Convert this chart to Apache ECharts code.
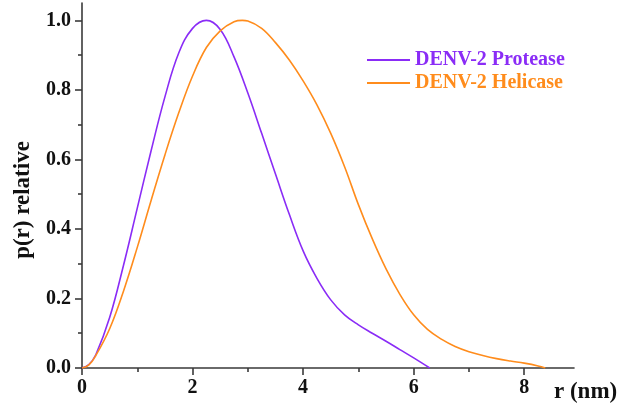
<!DOCTYPE html>
<html>
<head>
<meta charset="utf-8">
<script src="https://cdn.jsdelivr.net/npm/echarts@6/dist/echarts.min.js"></script>
<style>
  html, body { margin: 0; padding: 0; background: #ffffff; }
  #chart { width: 623px; height: 413px; }
</style>
</head>
<body>
<div id="chart"></div>
<script>
// Pair distance distributions p(r), normalised to a peak of 1
const proteaseR = [0, 0.125, 0.25, 0.5, 0.75, 1.0, 1.25, 1.5, 1.75, 2.0, 2.25, 2.5, 2.75, 3.0, 3.25, 3.5, 3.75, 4.0, 4.25, 4.5, 4.75, 5.0, 5.25, 5.5, 5.75, 6.0, 6.29];
const proteaseP = [0, 0.01, 0.038, 0.145, 0.295, 0.46, 0.625, 0.78, 0.906, 0.977, 1.0, 0.974, 0.895, 0.791, 0.675, 0.558, 0.442, 0.337, 0.258, 0.196, 0.153, 0.124, 0.1, 0.077, 0.053, 0.029, 0];

const helicaseR = [0, 0.125, 0.25, 0.5, 0.75, 1.0, 1.25, 1.5, 1.75, 2.0, 2.25, 2.5, 2.75, 2.9, 3.0, 3.25, 3.5, 3.75, 4.0, 4.25, 4.5, 4.75, 5.0, 5.25, 5.5, 5.75, 6.0, 6.25, 6.5, 6.75, 7.0, 7.25, 7.5, 7.75, 8.0, 8.25, 8.38];
const helicaseP = [0, 0.009, 0.036, 0.113, 0.221, 0.347, 0.482, 0.613, 0.734, 0.84, 0.922, 0.97, 0.996, 1.0, 0.998, 0.977, 0.936, 0.886, 0.826, 0.757, 0.675, 0.579, 0.47, 0.372, 0.285, 0.212, 0.153, 0.111, 0.083, 0.062, 0.047, 0.036, 0.027, 0.02, 0.014, 0.006, 0];

const seriesNames = ['DENV-2 Protease', 'DENV-2 Helicase'];
const seriesColors = ['#8a2cf6', '#ff8c1c'];

const xMajor = [0, 2, 4, 6, 8];
const xMinor = [1, 3, 5, 7];
const yMajor = [0, 0.2, 0.4, 0.6, 0.8, 1.0];
const yMinor = [0.1, 0.3, 0.5, 0.7, 0.9];

const FONT = '"Liberation Serif", "DejaVu Serif", serif';
const AXIS_COLOR = '#3a3a3a';

function pairs(xs, ys) { return xs.map((x, i) => [x, ys[i]]); }

const chart = echarts.init(document.getElementById('chart'), null, { renderer: 'canvas' });

const baseX = {
  type: 'value', min: 0, max: 8.9, position: 'bottom',
  splitLine: { show: false }
};
const baseY = {
  type: 'value', min: 0, max: 1.05, position: 'left',
  splitLine: { show: false }
};

chart.setOption({
  animation: false,
  backgroundColor: '#ffffff',
  grid: { left: 82, right: 49, top: 3, bottom: 45, containLabel: false },
  xAxis: [
    Object.assign({}, baseX, {
      axisLine: { show: true, lineStyle: { color: AXIS_COLOR, width: 1.6 } },
      axisTick: { show: true, inside: false, length: 7, customValues: xMajor, lineStyle: { color: AXIS_COLOR, width: 1.6 } },
      axisLabel: {
        show: true, customValues: xMajor, margin: 10,
        color: '#111', fontFamily: FONT, fontWeight: 'bold', fontSize: 20,
        formatter: v => String(Math.round(v))
      }
    }),
    Object.assign({}, baseX, {
      axisLine: { show: false },
      axisTick: { show: true, inside: false, length: 4, customValues: xMinor, lineStyle: { color: AXIS_COLOR, width: 1.6 } },
      axisLabel: { show: false }
    })
  ],
  yAxis: [
    Object.assign({}, baseY, {
      axisLine: { show: true, lineStyle: { color: AXIS_COLOR, width: 1.6 } },
      axisTick: { show: true, inside: false, length: 7, customValues: yMajor, lineStyle: { color: AXIS_COLOR, width: 1.6 } },
      axisLabel: {
        show: true, customValues: yMajor, margin: 11,
        color: '#111', fontFamily: FONT, fontWeight: 'bold', fontSize: 20,
        formatter: v => v.toFixed(1)
      }
    }),
    Object.assign({}, baseY, {
      axisLine: { show: false },
      axisTick: { show: true, inside: false, length: 4, customValues: yMinor, lineStyle: { color: AXIS_COLOR, width: 1.6 } },
      axisLabel: { show: false }
    })
  ],
  legend: {
    orient: 'vertical', left: 367, top: 50, padding: 0,
    itemWidth: 43, itemHeight: 2, itemGap: 3,
    icon: 'rect',
    data: seriesNames.map((n, i) => ({
      name: n,
      textStyle: { color: seriesColors[i] }
    })),
    textStyle: { fontFamily: FONT, fontWeight: 'bold', fontSize: 20, padding: [0, 0, 0, 0] }
  },
  graphic: [
    {
      type: 'text', left: 554, top: 381,
      style: { text: 'r (nm)', fill: '#111', font: 'bold 23px ' + FONT }
    },
    {
      type: 'text', x: 23, y: 200, rotation: Math.PI / 2,
      style: { text: 'p(r) relative', fill: '#111', font: 'bold 23px ' + FONT, align: 'center', verticalAlign: 'middle' }
    }
  ],
  series: [
    {
      name: seriesNames[0], type: 'line', xAxisIndex: 0, yAxisIndex: 0,
      data: pairs(proteaseR, proteaseP),
      smooth: 0.4, showSymbol: false, symbol: 'none',
      lineStyle: { color: seriesColors[0], width: 1.6 },
      itemStyle: { color: seriesColors[0] }
    },
    {
      name: seriesNames[1], type: 'line', xAxisIndex: 0, yAxisIndex: 0,
      data: pairs(helicaseR, helicaseP),
      smooth: 0.4, showSymbol: false, symbol: 'none',
      lineStyle: { color: seriesColors[1], width: 1.6 },
      itemStyle: { color: seriesColors[1] }
    }
  ]
});
</script>
</body>
</html>
